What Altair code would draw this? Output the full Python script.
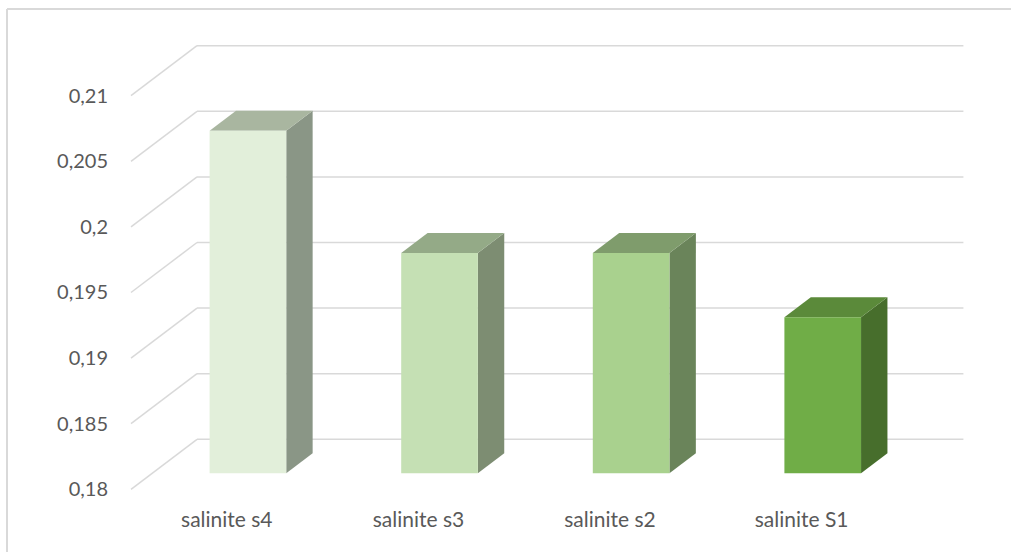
import altair as alt
import pandas as pd

# ---- data ----
categories = ["salinite s4", "salinite s3", "salinite s2", "salinite S1"]
values = [0.2061, 0.1968, 0.1968, 0.1919]
y_ticks = [0.18, 0.185, 0.19, 0.195, 0.2, 0.205, 0.21]
y_tick_labels = ["0,18", "0,185", "0,19", "0,195", "0,2", "0,205", "0,21"]

# ---- style ----
front_colors = ["#e2efda", "#c5e0b4", "#a9d18e", "#70ad47"]
top_colors = ["#a9b6a0", "#94aa87", "#7f9c6c", "#5b8a3a"]
side_colors = ["#8a9686", "#7d8d72", "#6a845a", "#476e2c"]
grid_color = "#d9d9d9"
text_color = "#595959"
FONT = "Lato"

W, H = 1004, 543
BASE = 0.18
# 3-D geometry (in scale units)
DX = 0.3445      # full depth shift along x (category units)
DY = 0.003811    # full depth shift along y (value units)
F0, F1 = 0.32, 0.72   # bar front / back depth fractions
HALF = 0.2           # half bar width
X_DOMAIN = [-1.1472, 4.0929]
Y_DOMAIN = [0.175221, 0.216608]

xs = alt.Scale(domain=X_DOMAIN, nice=False, zero=False)
ys = alt.Scale(domain=Y_DOMAIN, nice=False, zero=False)

# front faces
front = pd.DataFrame({
    "cat": categories,
    "x": [i - HALF + F0 * DX for i in range(4)],
    "x2": [i + HALF + F0 * DX for i in range(4)],
    "y": [BASE + F0 * DY] * 4,
    "y2": [v + F0 * DY for v in values],
})
# side faces (vertical area, 2 points each)
side_rows = []
for i, (c, v) in enumerate(zip(categories, values)):
    for f in (F0, F1):
        side_rows.append({"cat": c, "x": i + HALF + f * DX,
                          "y": BASE + f * DY, "y2": v + f * DY})
side = pd.DataFrame(side_rows)
# top faces (horizontal area, 2 points each)
top_rows = []
for i, (c, v) in enumerate(zip(categories, values)):
    for f in (F0, F1):
        top_rows.append({"cat": c, "y": v + f * DY,
                         "x": i - HALF + f * DX, "x2": i + HALF + f * DX})
top = pd.DataFrame(top_rows)

grid = pd.DataFrame({
    "t": y_ticks, "lab": y_tick_labels,
    "yb": [t + DY for t in y_ticks],
    "xf": [-0.5] * len(y_ticks),
    "xb": [-0.5 + DX] * len(y_ticks),
    "xe": [3.5 + DX] * len(y_ticks),
})
cats = pd.DataFrame({"cat": categories, "x": list(range(4)), "y": [BASE] * 4})

X = lambda f: alt.X(f, type="quantitative", scale=xs, axis=None)
Y = lambda f: alt.Y(f, type="quantitative", scale=ys, axis=None)

back_lines = alt.Chart(grid).mark_rule(color=grid_color, strokeWidth=1.5).encode(
    x=X("xb"), x2="xe", y=Y("yb"))
diag_lines = alt.Chart(grid).mark_rule(color=grid_color, strokeWidth=1.5).encode(
    x=X("xf"), x2="xb", y=Y("t"), y2="yb")
ylabels = alt.Chart(grid).mark_text(
    align="right", baseline="middle", dx=-23, dy=1, font=FONT, fontSize=20,
    color=text_color).encode(x=X("xf"), y=Y("t"), text="lab:N")

front_m = alt.Chart(front).mark_rect(stroke=None).encode(
    x=X("x"), x2="x2", y=Y("y"), y2="y2",
    color=alt.Color("cat:N", scale=alt.Scale(domain=categories, range=front_colors), legend=None))
side_m = alt.Chart(side).mark_area(orient="vertical", opacity=1).encode(
    x=X("x"), y=Y("y"), y2="y2", detail="cat:N",
    color=alt.Color("cat:N", scale=alt.Scale(domain=categories, range=side_colors), legend=None))
top_m = alt.Chart(top).mark_area(orient="horizontal", opacity=1).encode(
    y=Y("y"), x=X("x"), x2="x2", detail="cat:N",
    color=alt.Color("cat:N", scale=alt.Scale(domain=categories, range=top_colors), legend=None))

xlabels = alt.Chart(cats).mark_text(
    align="center", baseline="middle", dy=32, font=FONT, fontSize=21,
    color=text_color).encode(x=X("x"), y=Y("y"), text="cat:N")

border_top = alt.Chart(cats).mark_rule(color=grid_color, strokeWidth=1.5).encode(
    x=alt.value(0), x2=alt.value(W), y=alt.value(0))
border_left = alt.Chart(cats).mark_rule(color=grid_color, strokeWidth=1.5).encode(
    x=alt.value(0), y=alt.value(0), y2=alt.value(H))

chart = alt.layer(
    border_top, border_left, back_lines, diag_lines, ylabels,
    side_m, top_m, front_m, xlabels
).resolve_scale(color="independent").properties(
    width=W, height=H,
    autosize=alt.AutoSizeParams(type="none"),
    padding={"left": 7, "top": 9, "right": 0, "bottom": 0},
).configure_view(stroke=None).configure(background="white")

chart.save("out.html", embed_options={"renderer": "svg", "actions": False})
